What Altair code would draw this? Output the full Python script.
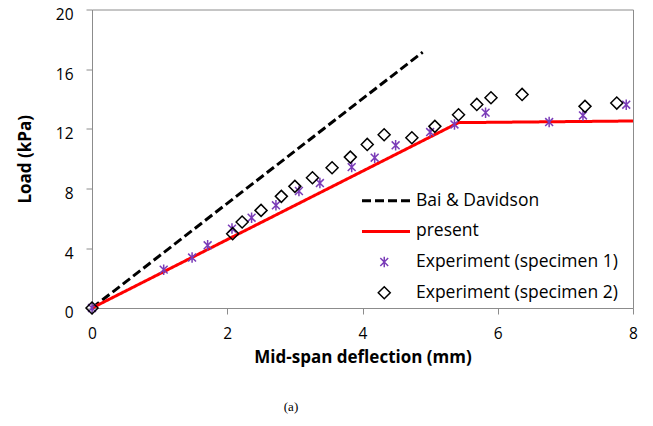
import altair as alt
import pandas as pd

# ---- data ----
line_names = ["Bai & Davidson", "present"]
bai_x = [0.0, 4.89]
bai_y = [0.0, 17.14]
present_x = [0.0, 5.42, 8.0]
present_y = [0.0, 12.42, 12.53]

point_names = ["Experiment (specimen 1)", "Experiment (specimen 2)"]
spec1_x = [0.0, 1.06, 1.48, 1.71, 2.07, 2.36, 2.72, 3.06, 3.37, 3.84, 4.18,
           4.49, 5.00, 5.36, 5.82, 6.76, 7.26, 7.90]
spec1_y = [0.0, 2.57, 3.38, 4.20, 5.32, 6.05, 6.88, 7.84, 8.37, 9.44, 10.07,
           10.90, 11.79, 12.30, 13.09, 12.46, 12.90, 13.62]
spec2_x = [0.0, 2.08, 2.22, 2.50, 2.80, 3.00, 3.26, 3.55, 3.82, 4.07, 4.32,
           4.73, 5.07, 5.42, 5.69, 5.90, 6.36, 7.29, 7.76]
spec2_y = [0.0, 4.98, 5.76, 6.54, 7.48, 8.15, 8.73, 9.40, 10.11, 10.96, 11.61,
           11.41, 12.17, 12.95, 13.64, 14.09, 14.31, 13.51, 13.73]

x_ticks = [0, 2, 4, 6, 8]
y_ticks = [0, 4, 8, 12, 16, 20]
caption = ["(a)"]


def frame(series):
    rows = []
    for name, xs, ys in series:
        for i, (a, b) in enumerate(zip(xs, ys)):
            rows.append({"series": name, "x": a, "y": b, "i": i})
    return pd.DataFrame(rows)


lines_df = frame([(line_names[0], bai_x, bai_y), (line_names[1], present_x, present_y)])
points_df = frame([(point_names[0], spec1_x, spec1_y), (point_names[1], spec2_x, spec2_y)])
cap_df = pd.DataFrame({"t": caption})

FONT = "Open Sans"
AX = "#8c8c8c"

x_enc = alt.X(
    "x:Q",
    scale=alt.Scale(domain=[0, 8], nice=False, zero=False),
    axis=alt.Axis(values=x_ticks, title="Mid-span deflection (mm)", labelFlush=False,
                  labelBaseline="alphabetic", labelPadding=24,
                  titleBaseline="alphabetic", titleY=54),
)
y_enc = alt.Y(
    "y:Q",
    scale=alt.Scale(domain=[0, 20], nice=False),
    axis=alt.Axis(values=y_ticks, title="Load (kPa)", labelFlush=False,
                  labelBaseline="alphabetic", labelOffset=9.8, labelPadding=13,
                  titleBaseline="alphabetic", titleX=-62),
)

line_legend = alt.Legend(
    title=None, orient="none", legendX=268.5, legendY=181.2,
    symbolType="stroke", symbolSize=2304, symbolStrokeWidth=3,
    clipHeight=20, rowPadding=10.7, labelOffset=4.5, padding=0, labelLimit=400,
    labelFont=FONT, labelFontSize=17.5, labelColor="black",
)
point_legend = alt.Legend(
    title=None, orient="none", legendX=283.5, legendY=242.5,
    symbolSize=100, symbolStrokeWidth=1.5,
    clipHeight=20, rowPadding=10.7, labelOffset=23, padding=0, labelLimit=400,
    labelFont=FONT, labelFontSize=17.5, labelColor="black",
)

lines = alt.Chart(lines_df).mark_line(strokeWidth=3).encode(
    x=x_enc,
    y=y_enc,
    order="i:Q",
    color=alt.Color("series:N", scale=alt.Scale(domain=line_names, range=["black", "#ff0000"]),
                    legend=line_legend),
    strokeDash=alt.StrokeDash("series:N", scale=alt.Scale(domain=line_names, range=[[9, 4], [1, 0]]),
                              legend=line_legend),
)

ASTERISK = "M0,-1L0,1M-0.75,-0.75L0.75,0.75M-0.75,0.75L0.75,-0.75"

points = alt.Chart(points_df).mark_point(filled=False, strokeWidth=1.5, opacity=1).encode(
    x=x_enc,
    y=y_enc,
    color=alt.Color("series:N", scale=alt.Scale(domain=point_names, range=["#7a3cb8", "black"]),
                    legend=point_legend),
    shape=alt.Shape("series:N", scale=alt.Scale(domain=point_names, range=[ASTERISK, "diamond"]),
                    legend=point_legend),
    size=alt.Size("series:N", scale=alt.Scale(domain=point_names, range=[110, 144]), legend=None),
)

cap = alt.Chart(cap_df).mark_text(font="Liberation Serif", fontSize=13, color="black").encode(
    text="t:N", x=alt.value(199), y=alt.value(397.5)
)

chart = (
    alt.layer(lines, points, cap)
    .resolve_scale(color="independent", shape="independent", strokeDash="independent", size="independent")
    .properties(width=541, height=298.5,
                padding={"left": 84, "top": 1.5, "right": 12, "bottom": 112},
                autosize=alt.AutoSizeParams(type="none"))
    .configure_view(stroke=AX, strokeWidth=1)
    .configure_axis(
        grid=False, domainColor=AX, tickColor=AX, tickSize=6,
        labelFont=FONT, labelFontSize=15.5, labelColor="black",
        titleFont=FONT, titleFontSize=17, titleFontWeight="bold", titleColor="black",
    )
)

chart.save("out.html", embed_options={"renderer": "svg", "actions": False})
